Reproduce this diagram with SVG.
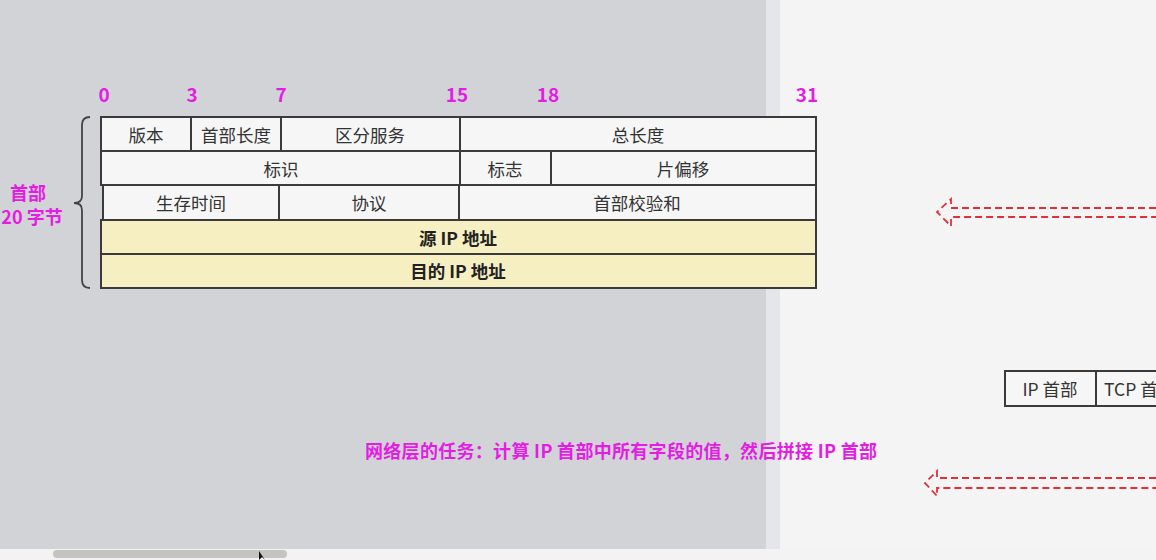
<svg xmlns="http://www.w3.org/2000/svg" width="1156" height="560" viewBox="0 0 1156 560">
<defs>
<style>
.cell{fill:#f6f6f6;stroke:#3a3a3a;stroke-width:2}
.ycell{fill:#f6efc2;stroke:#3a3a3a;stroke-width:2}
.t{font-family:"Noto Sans CJK SC","Noto Sans",sans-serif;font-size:17.5px;fill:#333;text-anchor:middle;dominant-baseline:central}
.tb{font-family:"Noto Sans CJK SC","Noto Sans",sans-serif;font-size:17.5px;font-weight:bold;fill:#222;text-anchor:middle;dominant-baseline:central}
.m{font-family:"Noto Sans CJK SC","Noto Sans",sans-serif;font-size:18px;font-weight:bold;fill:#e41de4;text-anchor:middle;dominant-baseline:central}
.n{font-size:19px}
.dash{fill:none;stroke:#e0303a;stroke-width:1.8;stroke-dasharray:7 4}
</style>
</defs>
<rect x="0" y="0" width="1156" height="560" fill="#f4f4f4"/>
<rect x="0" y="0" width="766" height="549" fill="#d1d3d7"/>
<rect x="766" y="0" width="14" height="549" fill="#e4e6e9"/>
<rect x="0" y="549" width="1156" height="11" fill="#f3f3f3"/>
<rect x="53" y="550" width="234" height="8" rx="4" fill="#c4c4c2"/>
<path d="M259 551 L259 560 L262 557 L265 560 Z" fill="#111"/>

<g id="bit-labels">
<text class="m n" x="104" y="93">0</text>
<text class="m n" x="192" y="93">3</text>
<text class="m n" x="281" y="93">7</text>
<text class="m n" x="457" y="93">15</text>
<text class="m n" x="548" y="93">18</text>
<text class="m n" x="807" y="93">31</text>
</g>

<g id="header-label">
<path d="M90 117 Q82 117 82 125 L82 196 Q82 203 74 203 Q82 203 82 210 L82 280 Q82 288 90 288" fill="none" stroke="#444" stroke-width="1.8"/>
<text class="m" x="28" y="192">首部</text>
<text class="m" x="32" y="216">20 字节</text>
</g>

<g id="row1">
<rect class="cell" x="101" y="117" width="90" height="34"/>
<rect class="cell" x="191" y="117" width="90" height="34"/>
<rect class="cell" x="281" y="117" width="179" height="34"/>
<rect class="cell" x="460" y="117" width="356" height="34"/>
<text class="t" x="146" y="134">版本</text>
<text class="t" x="236" y="134">首部长度</text>
<text class="t" x="370" y="134">区分服务</text>
<text class="t" x="638" y="134">总长度</text>
</g>
<g id="row2">
<rect class="cell" x="101" y="151" width="359" height="34"/>
<rect class="cell" x="460" y="151" width="91" height="34"/>
<rect class="cell" x="551" y="151" width="265" height="34"/>
<text class="t" x="281" y="168">标识</text>
<text class="t" x="505" y="168">标志</text>
<text class="t" x="683" y="168">片偏移</text>
</g>
<g id="row3">
<rect class="cell" x="103" y="185" width="176" height="35"/>
<rect class="cell" x="279" y="185" width="180" height="35"/>
<rect class="cell" x="459" y="185" width="357" height="35"/>
<text class="t" x="191" y="202">生存时间</text>
<text class="t" x="369" y="202">协议</text>
<text class="t" x="637" y="202">首部校验和</text>
</g>
<g id="row4">
<rect class="ycell" x="101" y="220" width="715" height="34"/>
<text class="tb" x="458" y="237">源 IP 地址</text>
</g>
<g id="row5">
<rect class="ycell" x="101" y="254" width="715" height="34"/>
<text class="tb" x="458" y="270">目的 IP 地址</text>
</g>

<g id="packet">
<rect class="cell" x="1005" y="371" width="91" height="35"/>
<rect class="cell" x="1096" y="371" width="70" height="35"/>
<text class="t" x="1050" y="388">IP 首部</text>
<text class="t" x="1104" y="388" style="text-anchor:start">TCP 首</text>
</g>

<g id="connectors">
<path class="dash" d="M1156 208 L951 208 L951 199 L937 212 L951 226 L951 217 L1156 217"/>
<path class="dash" d="M1156 478 L937 478 L937 471 L925 483 L937 496 L937 488 L1156 488"/>
</g>

<g id="task">
<text class="m" x="621" y="450" textLength="512" lengthAdjust="spacing">网络层的任务：计算 IP 首部中所有字段的值，然后拼接 IP 首部</text>
</g>
</svg>
